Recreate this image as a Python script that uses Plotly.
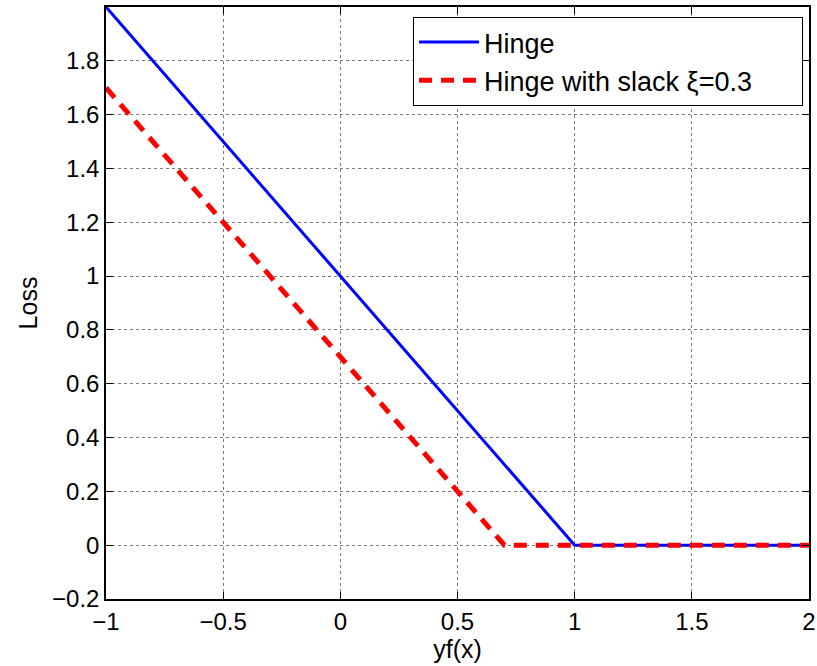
import plotly.graph_objects as go

# Margin values yf(x) and the corresponding losses
hinge_x = [-1.0, 1.0, 2.0]
hinge_y = [2.0, 0.0, 0.0]
slack_x = [-1.0, 0.7, 2.0]
slack_y = [1.7, 0.0, 0.0]

x_ticks = [-1, -0.5, 0, 0.5, 1, 1.5, 2]
x_labels = ["\u22121", "\u22120.5", "0", "0.5", "1", "1.5", "2"]
y_ticks = [-0.2, 0, 0.2, 0.4, 0.6, 0.8, 1, 1.2, 1.4, 1.6, 1.8]
y_labels = ["\u22120.2", "0", "0.2", "0.4", "0.6", "0.8", "1", "1.2", "1.4", "1.6", "1.8"]

font_family = "Liberation Sans, Arial, Helvetica, sans-serif"
pad = "\u00a0" * 6  # extra room on the right of the legend box

fig = go.Figure()
fig.add_trace(go.Scatter(
    x=hinge_x, y=hinge_y, mode="lines", name="Hinge",
    line=dict(color="#0000ff", width=3),
))
fig.add_trace(go.Scatter(
    x=slack_x, y=slack_y, mode="lines", name="Hinge with slack \u03be=0.3" + pad,
    line=dict(color="#ff0000", width=5, dash="13px,9px"),
))

axis_common = dict(
    showline=True, linecolor="black", linewidth=1.5, mirror="ticks",
    ticks="inside", ticklen=7, tickcolor="black",
    showgrid=True, gridcolor="rgba(90,90,90,0.8)", griddash="dot", gridwidth=1,
    zeroline=False, automargin=False,
    tickfont=dict(size=24, color="black", family=font_family),
)

fig.update_xaxes(
    range=[-1, 2], tickvals=x_ticks, ticktext=x_labels,
    title=dict(text="yf(x)", font=dict(size=25, color="black", family=font_family), standoff=2),
    **axis_common,
)
fig.update_yaxes(
    range=[-0.2, 2], tickvals=y_ticks, ticktext=y_labels,
    title=dict(text="Loss", font=dict(size=25, color="black", family=font_family), standoff=7),
    **axis_common,
)

fig.update_layout(
    width=817, height=666,
    margin=dict(l=106, r=8, t=7, b=67, autoexpand=False),
    paper_bgcolor="white", plot_bgcolor="white",
    font=dict(family=font_family, color="black"),
    legend=dict(
        x=0.9915, y=0.983, xanchor="right", yanchor="top",
        bgcolor="white", bordercolor="black", borderwidth=1,
        font=dict(size=27, color="black", family=font_family),
        itemwidth=60, tracegroupgap=0,
    ),
    showlegend=True,
)

fig.write_html("out.html")
